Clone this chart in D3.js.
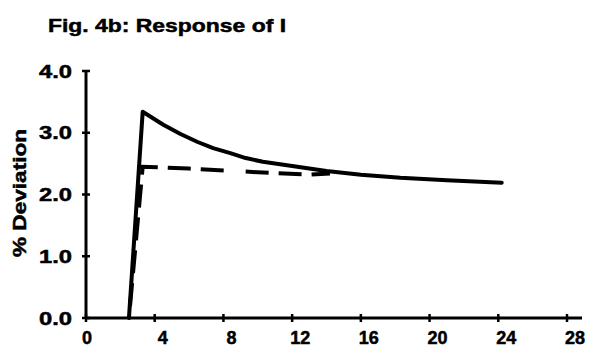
<!DOCTYPE html>
<html>
<head>
<meta charset="utf-8">
<script src="https://cdn.jsdelivr.net/npm/d3@7"></script>
<style>
  body { margin: 0; background: #fff; }
  text { font-family: "Liberation Sans", Arial, sans-serif; font-weight: bold; fill: #000; stroke: #000; stroke-width: 0.5px; }
</style>
</head>
<body>
<div id="chart"></div>
<script>
// DATA //
const titleText = "Fig. 4b: Response of I";
const yLabel = "% Deviation";
const xTicks = [0, 4, 8, 12, 16, 20, 24, 28];
const yTicks = [0, 1, 2, 3, 4];

// solid line (response)
const solidT = [2.5, 3.3, 4.5, 5.5, 6.5, 7.4, 8.4, 9.3, 10.3, 11.3, 12.3, 14, 16, 18.3, 21, 24.2];
const solidV = [0, 3.34, 3.13, 2.98, 2.85, 2.75, 2.67, 2.59, 2.53, 2.49, 2.45, 2.38, 2.32, 2.27, 2.23, 2.19];

// dashed line
const dashT = [2.5, 3.3, 6, 10, 13, 14.2];
const dashV = [0, 2.45, 2.42, 2.36, 2.32, 2.34];

// DIMENSIONS //
let margin = {top: 71, right: 9, bottom: 32, left: 86},
    width = 591 - margin.left - margin.right,
    height = 350 - margin.top - margin.bottom;

let svg = d3.select("#chart")
    .append("svg")
    .attr("width", 591)
    .attr("height", 350);

let g = svg.append("g")
    .attr("transform", "translate(" + margin.left + "," + margin.top + ")");

let xScale = d3.scaleLinear().domain([0, 28]).range([0, 481]);
let yScale = d3.scaleLinear().domain([0, 4]).range([height, 0]);

// title
svg.append("text")
    .attr("x", 48)
    .attr("y", 32)
    .attr("textLength", 238)
    .attr("lengthAdjust", "spacingAndGlyphs")
    .style("font-size", "19px")
    .text(titleText);

// y label
svg.append("text")
    .attr("transform", "translate(26,193) rotate(-90)")
    .attr("text-anchor", "middle")
    .attr("textLength", 128)
    .attr("lengthAdjust", "spacingAndGlyphs")
    .style("font-size", "19px")
    .text(yLabel);

// AXES //
g.append("line")
    .attr("x1", 0).attr("x2", 0)
    .attr("y1", yScale(0)).attr("y2", yScale(4))
    .attr("stroke", "#000").attr("stroke-width", 3);

g.append("line")
    .attr("x1", 0).attr("x2", 496)
    .attr("y1", yScale(0)).attr("y2", yScale(0))
    .attr("stroke", "#000").attr("stroke-width", 3);

g.selectAll(".ytick")
    .data(yTicks)
    .enter()
    .append("line")
    .attr("x1", -4).attr("x2", 4)
    .attr("y1", d => yScale(d)).attr("y2", d => yScale(d))
    .attr("stroke", "#000").attr("stroke-width", 2.5);

g.selectAll(".ylab")
    .data(yTicks)
    .enter()
    .append("text")
    .attr("x", -14)
    .attr("y", d => yScale(d) + 6.5)
    .attr("text-anchor", "end")
    .attr("textLength", 33)
    .attr("lengthAdjust", "spacingAndGlyphs")
    .style("font-size", "18px")
    .text(d => d.toFixed(1));

g.selectAll(".xtick")
    .data(xTicks)
    .enter()
    .append("line")
    .attr("x1", d => xScale(d)).attr("x2", d => xScale(d))
    .attr("y1", height - 4).attr("y2", height + 4)
    .attr("stroke", "#000").attr("stroke-width", 2.5);

g.selectAll(".xlab")
    .data(xTicks)
    .enter()
    .append("text")
    .attr("x", d => xScale(d) + (d === 0 ? 1 : 8))
    .attr("y", height + 26)
    .attr("text-anchor", "middle")
    .style("font-size", "18px")
    .text(d => d);

// LINES //
let line = d3.line()
    .x(d => xScale(d[0]))
    .y(d => yScale(d[1]));

g.append("path")
    .datum(dashT.map((t, i) => [t, dashV[i]]))
    .attr("d", line)
    .attr("fill", "none")
    .attr("stroke", "#000")
    .attr("stroke-width", 4)
    .attr("stroke-dasharray", "0,4,0,8,23,10,23,10,23,10,23,10,23,10,23,10,23,10");

g.append("path")
    .datum(solidT.map((t, i) => [t, solidV[i]]))
    .attr("d", line)
    .attr("fill", "none")
    .attr("stroke", "#000")
    .attr("stroke-width", 4)
    .attr("stroke-linejoin", "round")
    .attr("stroke-linecap", "round");
</script>
</body>
</html>
